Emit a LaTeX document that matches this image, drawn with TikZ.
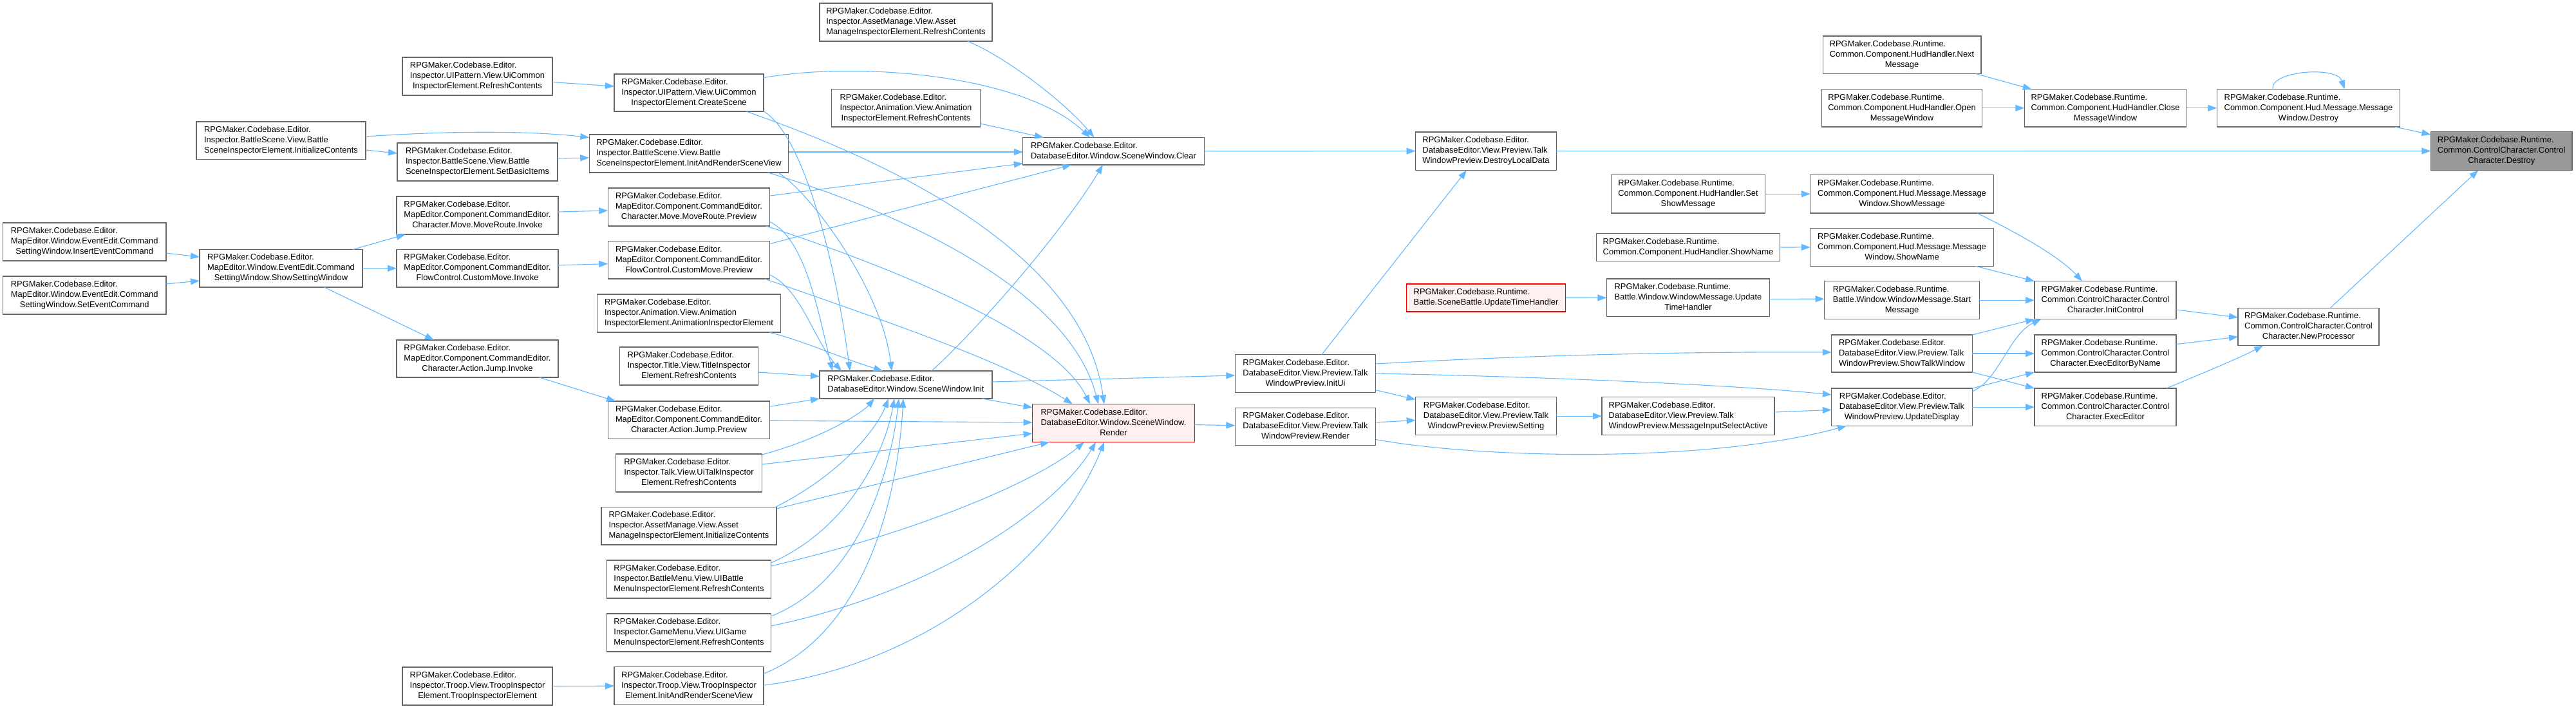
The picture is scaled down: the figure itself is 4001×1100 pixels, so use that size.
\documentclass[tikz,border=0pt]{standalone}
\usepackage{fontspec}
\setmainfont{Liberation Sans}
\usetikzlibrary{calc,arrows.meta}
\definecolor{edgeblue}{HTML}{63B8FF}
\definecolor{boxgray}{HTML}{666666}
\definecolor{redfill}{HTML}{FFF0F0}
\definecolor{rootfill}{HTML}{999999}
\newcommand{\lthree}[3]{\begin{tabular}{@{}l@{}}#1\\#2\\\multicolumn{1}{@{}c@{}}{#3}\end{tabular}}
\newcommand{\ltwo}[2]{\begin{tabular}{@{}l@{}}#1\\\multicolumn{1}{@{}c@{}}{#2}\end{tabular}}
\newcommand{\bx}[6]{\node[box,#1,minimum width=#4,minimum height=#5] (#6) at (#2,#3)}
\begin{document}
\begin{tikzpicture}[x=1pt,y=-1pt,
  box/.style={draw=boxgray,fill=white,line width=1.2pt,inner sep=0pt,outer sep=0pt,
    font=\fontsize{12.9}{16}\selectfont,text=black},
  hot/.style={draw=red,fill=redfill},
  root/.style={draw=boxgray,fill=rootfill},
  cn/.style={draw=edgeblue,line width=1.1pt,-{Triangle[length=14pt,width=10pt]}}]
\useasboundingbox[fill=white] (0,0) rectangle (4001,1100);
% column A
\bx{}{131.25}{375.5}{253.5}{59}{insert}{\lthree{RPGMaker.Codebase.Editor.}{MapEditor.Window.EventEdit.Command}{SettingWindow.InsertEventCommand}};
\bx{}{131.25}{458.5}{253.5}{59}{setev}{\lthree{RPGMaker.Codebase.Editor.}{MapEditor.Window.EventEdit.Command}{SettingWindow.SetEventCommand}};
% column B
\bx{}{436.5}{218.25}{263}{58.5}{battleinit}{\lthree{RPGMaker.Codebase.Editor.}{Inspector.BattleScene.View.Battle}{SceneInspectorElement.InitializeContents}};
\bx{}{436.5}{416.75}{253}{58.5}{showset}{\lthree{RPGMaker.Codebase.Editor.}{MapEditor.Window.EventEdit.Command}{SettingWindow.ShowSettingWindow}};
% column C
\bx{}{741.5}{118.5}{233}{59}{uirefresh}{\lthree{RPGMaker.Codebase.Editor.}{Inspector.UIPattern.View.UiCommon}{InspectorElement.RefreshContents}};
\bx{}{741.5}{251.5}{249}{59}{setbasic}{\lthree{RPGMaker.Codebase.Editor.}{Inspector.BattleScene.View.Battle}{SceneInspectorElement.SetBasicItems}};
\bx{}{741.5}{334.5}{251}{59}{mrinvoke}{\lthree{RPGMaker.Codebase.Editor.}{MapEditor.Component.CommandEditor.}{Character.Move.MoveRoute.Invoke}};
\bx{}{741.5}{416.75}{251}{58.5}{cminvoke}{\lthree{RPGMaker.Codebase.Editor.}{MapEditor.Component.CommandEditor.}{FlowControl.CustomMove.Invoke}};
\bx{}{741.5}{557}{251}{58}{jinvoke}{\lthree{RPGMaker.Codebase.Editor.}{MapEditor.Component.CommandEditor.}{Character.Action.Jump.Invoke}};
\bx{}{741.5}{1065.5}{233}{59}{troopelem}{\lthree{RPGMaker.Codebase.Editor.}{Inspector.Troop.View.TroopInspector}{Element.TroopInspectorElement}};
% column D
\bx{}{1070}{144}{232}{58}{createscene}{\lthree{RPGMaker.Codebase.Editor.}{Inspector.UIPattern.View.UiCommon}{InspectorElement.CreateScene}};
\bx{}{1070}{238.5}{309.5}{59}{initrender}{\lthree{RPGMaker.Codebase.Editor.}{Inspector.BattleScene.View.Battle}{SceneInspectorElement.InitAndRenderSceneView}};
\bx{}{1070}{321.5}{251.5}{59}{mrpreview}{\lthree{RPGMaker.Codebase.Editor.}{MapEditor.Component.CommandEditor.}{Character.Move.MoveRoute.Preview}};
\bx{}{1070}{403.8}{251.5}{58.4}{cmpreview}{\lthree{RPGMaker.Codebase.Editor.}{MapEditor.Component.CommandEditor.}{FlowControl.CustomMove.Preview}};
\bx{}{1070}{486.5}{285.5}{59}{animelem}{\lthree{RPGMaker.Codebase.Editor.}{Inspector.Animation.View.Animation}{InspectorElement.AnimationInspectorElement}};
\bx{}{1070}{568.5}{215.4}{59}{titlerefresh}{\lthree{RPGMaker.Codebase.Editor.}{Inspector.Title.View.TitleInspector}{Element.RefreshContents}};
\bx{}{1070}{652.2}{251.5}{58.4}{jpreview}{\lthree{RPGMaker.Codebase.Editor.}{MapEditor.Component.CommandEditor.}{Character.Action.Jump.Preview}};
\bx{}{1070}{734.5}{227.5}{59}{talkrefresh}{\lthree{RPGMaker.Codebase.Editor.}{Inspector.Talk.View.UiTalkInspector}{Element.RefreshContents}};
\bx{}{1070}{816.75}{272}{58.5}{assetinit}{\lthree{RPGMaker.Codebase.Editor.}{Inspector.AssetManage.View.Asset}{ManageInspectorElement.InitializeContents}};
\bx{}{1070}{899.5}{255}{59}{battlemenu}{\lthree{RPGMaker.Codebase.Editor.}{Inspector.BattleMenu.View.UIBattle}{MenuInspectorElement.RefreshContents}};
\bx{}{1070}{982.5}{255}{59}{gamemenu}{\lthree{RPGMaker.Codebase.Editor.}{Inspector.GameMenu.View.UIGame}{MenuInspectorElement.RefreshContents}};
\bx{}{1070}{1065.2}{232}{59}{troopinit}{\lthree{RPGMaker.Codebase.Editor.}{Inspector.Troop.View.TroopInspector}{Element.InitAndRenderSceneView}};
% column E
\bx{}{1407}{34.5}{268}{59}{assetrefresh}{\lthree{RPGMaker.Codebase.Editor.}{Inspector.AssetManage.View.Asset}{ManageInspectorElement.RefreshContents}};
\bx{}{1407}{167.8}{230.5}{58.4}{animrefresh}{\lthree{RPGMaker.Codebase.Editor.}{Inspector.Animation.View.Animation}{InspectorElement.RefreshContents}};
\bx{}{1407}{597.5}{268}{43}{init}{\ltwo{RPGMaker.Codebase.Editor.}{DatabaseEditor.Window.SceneWindow.Init}};
% column F
\bx{}{1729.5}{234.8}{281.5}{42.4}{clear}{\ltwo{RPGMaker.Codebase.Editor.}{DatabaseEditor.Window.SceneWindow.Clear}};
\bx{hot}{1729.5}{657}{251.8}{59}{render}{\lthree{RPGMaker.Codebase.Editor.}{DatabaseEditor.Window.SceneWindow.}{Render}};
% column G
\bx{}{2027.5}{580}{218.3}{58.3}{talkinitui}{\lthree{RPGMaker.Codebase.Editor.}{DatabaseEditor.View.Preview.Talk}{WindowPreview.InitUi}};
\bx{}{2027.5}{662.7}{218.3}{58.2}{talkrender}{\lthree{RPGMaker.Codebase.Editor.}{DatabaseEditor.View.Preview.Talk}{WindowPreview.Render}};
% column H
\bx{}{2308}{234.6}{218.7}{59.3}{destroylocal}{\lthree{RPGMaker.Codebase.Editor.}{DatabaseEditor.View.Preview.Talk}{WindowPreview.DestroyLocalData}};
\bx{hot}{2308}{462.5}{247.6}{43}{updatetime}{\ltwo{RPGMaker.Codebase.Runtime.}{Battle.SceneBattle.UpdateTimeHandler}};
\bx{}{2308}{646.2}{218.7}{58.9}{previewsetting}{\lthree{RPGMaker.Codebase.Editor.}{DatabaseEditor.View.Preview.Talk}{WindowPreview.PreviewSetting}};
% column I
\bx{}{2622}{301.2}{238.8}{59.6}{setshowmsg}{\lthree{RPGMaker.Codebase.Runtime.}{Common.Component.HudHandler.Set}{ShowMessage}};
\bx{}{2622}{384}{284.3}{43}{hudshowname}{\ltwo{RPGMaker.Codebase.Runtime.}{Common.Component.HudHandler.ShowName}};
\bx{}{2622}{462.4}{253.2}{58.8}{wmupdate}{\lthree{RPGMaker.Codebase.Runtime.}{Battle.Window.WindowMessage.Update}{TimeHandler}};
\bx{}{2622}{646.2}{268}{58.9}{msginput}{\lthree{RPGMaker.Codebase.Editor.}{DatabaseEditor.View.Preview.Talk}{WindowPreview.MessageInputSelectActive}};
% column J
\bx{}{2954}{85.3}{245.8}{58.6}{nextmsg}{\lthree{RPGMaker.Codebase.Runtime.}{Common.Component.HudHandler.Next}{Message}};
\bx{}{2954}{167.8}{249.5}{58.4}{openmsg}{\lthree{RPGMaker.Codebase.Runtime.}{Common.Component.HudHandler.Open}{MessageWindow}};
\bx{}{2954}{301.2}{284.4}{59.6}{mwshowmsg}{\lthree{RPGMaker.Codebase.Runtime.}{Common.Component.Hud.Message.Message}{Window.ShowMessage}};
\bx{}{2954}{383.9}{284.4}{58.6}{mwshowname}{\lthree{RPGMaker.Codebase.Runtime.}{Common.Component.Hud.Message.Message}{Window.ShowName}};
\bx{}{2954}{466.2}{240.6}{58.9}{startmsg}{\lthree{RPGMaker.Codebase.Runtime.}{Battle.Window.WindowMessage.Start}{Message}};
\bx{}{2954}{549}{218.4}{58}{showtalk}{\lthree{RPGMaker.Codebase.Editor.}{DatabaseEditor.View.Preview.Talk}{WindowPreview.ShowTalkWindow}};
\bx{}{2954}{632.2}{218.4}{58.4}{updatedisp}{\lthree{RPGMaker.Codebase.Editor.}{DatabaseEditor.View.Preview.Talk}{WindowPreview.UpdateDisplay}};
% column K
\bx{}{3270}{167.8}{251.4}{58.4}{closemsg}{\lthree{RPGMaker.Codebase.Runtime.}{Common.Component.HudHandler.Close}{MessageWindow}};
\bx{}{3270}{466.2}{220}{58.9}{initcontrol}{\lthree{RPGMaker.Codebase.Runtime.}{Common.ControlCharacter.Control}{Character.InitControl}};
\bx{}{3270}{549}{220}{58}{execbyname}{\lthree{RPGMaker.Codebase.Runtime.}{Common.ControlCharacter.Control}{Character.ExecEditorByName}};
\bx{}{3270}{632.2}{220}{58.4}{execeditor}{\lthree{RPGMaker.Codebase.Runtime.}{Common.ControlCharacter.Control}{Character.ExecEditor}};
% column L
\bx{}{3585.5}{167.8}{284.4}{58.4}{mwdestroy}{\lthree{RPGMaker.Codebase.Runtime.}{Common.Component.Hud.Message.Message}{Window.Destroy}};
\bx{}{3585.5}{507.7}{219}{58.2}{newproc}{\lthree{RPGMaker.Codebase.Runtime.}{Common.ControlCharacter.Control}{Character.NewProcessor}};
% column M
\bx{root}{3885.2}{234.5}{219.6}{59.7}{destroy}{\lthree{RPGMaker.Codebase.Runtime.}{Common.ControlCharacter.Control}{Character.Destroy}};

% ---- edges, left part
\draw[cn] ($(insert.east)+(0,17.5)$) -- ($(showset.west)+(0,-17.75)$);
\draw[cn] ($(setev.east)+(0,-17.5)$) -- ($(showset.west)+(0,19.25)$);
\draw[cn] ($(showset.north)+(111.5,0)$) -- ($(mrinvoke.south)+(-112,0)$);
\draw[cn] (showset.east) -- (cminvoke.west);
\draw[cn] ($(showset.south)+(67,0)$) -- ($(jinvoke.north)+(-67.5,0)$);
\draw[cn] ($(battleinit.east)+(0,14.75)$) -- ($(setbasic.west)+(0,-13.5)$);
\draw[cn] ($(battleinit.east)+(0,-6.25)$) .. controls (700,203) and (820,203) .. ($(initrender.west)+(0,-25)$);
\draw[cn] ($(setbasic.east)+(0,-5.5)$) -- ($(initrender.west)+(0,6.5)$);
\draw[cn] ($(uirefresh.east)+(0,9)$) -- ($(createscene.west)+(0,-10)$);
\draw[cn] ($(mrinvoke.east)+(0,-5.5)$) -- ($(mrpreview.west)+(0,5.5)$);
\draw[cn] ($(cminvoke.east)+(0,-4.75)$) -- ($(cmpreview.west)+(0,5.8)$);
\draw[cn] ($(jinvoke.south)+(96,0)$) -- ($(jpreview.north)+(-114,0)$);
\draw[cn] (troopelem.east) -- (troopinit.west);
% into Clear
\draw[cn] ($(assetrefresh.south)+(96,0)$) .. controls (1565,90) and (1655,160) .. ($(clear.north)+(-30,0)$);
\draw[cn] ($(createscene.east)+(0,-23.3)$) .. controls (1330,95) and (1590,115) .. ($(clear.north)+(-36.5,0)$);
\draw[cn] ($(animrefresh.east)+(0,24)$) -- ($(clear.north)+(-108.5,0)$);
\draw[cn] ($(initrender.east)+(0,-2.5)$) -- ($(clear.west)+(0,1.2)$);
\draw[cn] ($(mrpreview.east)+(0,-17.5)$) -- ($(clear.west)+(0,19)$);
\draw[cn] ($(cmpreview.east)+(0,-25.2)$) -- ($(clear.south)+(-65.5,0)$);
\draw[cn] ($(init.north)+(40,0)$) .. controls (1520,510) and (1650,360) .. ($(clear.south)+(-16.5,0)$);
% into Render
\draw[cn] ($(init.south)+(118,0)$) -- ($(render.west)+(0,-24)$);
\draw[cn] ($(createscene.south)+(89,0)$) .. controls (1350,240) and (1680,380) .. ($(render.north)+(-14.5,0)$);
\draw[cn] ($(initrender.south)+(122.4,0)$) .. controls (1400,330) and (1660,450) .. ($(render.north)+(-23.5,0)$);
\draw[cn] ($(mrpreview.south)+(120,0)$) .. controls (1400,420) and (1640,520) .. ($(render.north)+(-36.5,0)$);
\draw[cn] ($(cmpreview.south)+(118,0)$) .. controls (1350,490) and (1560,560) .. ($(render.north)+(-63.5,0)$);
\draw[cn] ($(jpreview.east)+(0,1)$) -- ($(render.west)+(0,-1)$);
\draw[cn] ($(talkrefresh.east)+(0,-13.5)$) -- ($(render.west)+(0,16)$);
\draw[cn] ($(assetinit.east)+(0,-26.75)$) -- ($(render.south)+(-99.5,0)$);
\draw[cn] ($(battlemenu.east)+(0,-20.5)$) .. controls (1450,820) and (1620,740) .. ($(render.south)+(-45.5,0)$);
\draw[cn] ($(gamemenu.east)+(0,-10.5)$) .. controls (1450,920) and (1640,790) .. ($(render.south)+(-27.5,0)$);
\draw[cn] ($(troopinit.east)+(0,-1)$) .. controls (1450,1030) and (1650,850) .. ($(render.south)+(-14.5,0)$);
% into Init
\draw[cn] ($(titlerefresh.east)+(0,9.5)$) -- ($(init.west)+(0,-13)$);
\draw[cn] ($(jpreview.east)+(0,-21)$) -- (init.south west);
\draw[cn] ($(talkrefresh.east)+(0,-28.5)$) .. controls (1280,680) and (1340,640) .. ($(init.south)+(-49,0)$);
\draw[cn] ($(assetinit.north east)+(-2,0)$) .. controls (1300,740) and (1360,670) .. ($(init.south)+(-27,0)$);
\draw[cn] ($(battlemenu.east)+(0,-25.5)$) .. controls (1320,820) and (1375,700) .. ($(init.south)+(-18,0)$);
\draw[cn] ($(gamemenu.east)+(0,-25.5)$) .. controls (1340,900) and (1385,720) .. ($(init.south)+(-11,0)$);
\draw[cn] ($(troopinit.east)+(0,-19)$) .. controls (1350,980) and (1395,760) .. ($(init.south)+(-4,0)$);
\draw[cn] (createscene.south east) .. controls (1250,210) and (1300,420) .. ($(init.north)+(-87,0)$);
\draw[cn] ($(initrender.south)+(138.5,0)$) .. controls (1260,300) and (1370,450) .. ($(init.north)+(-22,0)$);
\draw[cn] ($(mrpreview.east)+(0,23)$) .. controls (1250,370) and (1270,480) .. ($(init.north)+(-114,0)$);
\draw[cn] ($(cmpreview.east)+(0,23)$) .. controls (1245,450) and (1265,530) .. ($(init.north)+(-100,0)$);
\draw[cn] ($(animelem.south)+(124.6,0)$) .. controls (1250,530) and (1290,550) .. ($(init.north)+(-36,0)$);
% right part
\draw[cn] ($(init.east)+(0,-4.5)$) -- ($(talkinitui.west)+(0,3)$);
\draw[cn] ($(render.east)+(0,2.6)$) -- ($(talkrender.west)+(0,-2)$);
\draw[cn] (clear.east) -- (destroylocal.west);
\draw[cn] ($(talkinitui.north)+(25.2,0)$) -- ($(destroylocal.south)+(-30,0)$);
\draw[cn] ($(talkinitui.east)+(0,25.7)$) -- ($(previewsetting.west)+(0,-25.8)$);
\draw[cn] ($(talkinitui.east)+(0,-15)$) .. controls (2400,550) and (2650,546) .. ($(showtalk.west)+(0,-2)$);
\draw[cn] (talkinitui.east) .. controls (2400,585) and (2700,598) .. ($(updatedisp.west)+(0,-19.2)$);
\draw[cn] ($(talkrender.east)+(0,-6.7)$) -- ($(previewsetting.west)+(0,6.3)$);
\draw[cn] ($(talkrender.east)+(0,19.8)$) .. controls (2300,712) and (2650,720) .. ($(updatedisp.south)+(-86,0)$);
\draw[cn] (previewsetting.east) -- (msginput.west);
\draw[cn] ($(msginput.east)+(0,-6.2)$) -- ($(updatedisp.west)+(0,4.2)$);
\draw[cn] (destroylocal.east) -- (destroy.west);
\draw[cn] (updatetime.east) -- (wmupdate.west);
\draw[cn] ($(wmupdate.east)+(0,2)$) -- ($(startmsg.west)+(0,-2)$);
\draw[cn] (setshowmsg.east) -- (mwshowmsg.west);
\draw[cn] (hudshowname.east) -- (mwshowname.west);
\draw[cn] ($(nextmsg.south east)+(-8,0)$) -- ($(closemsg.north west)+(11.5,0)$);
\draw[cn] (openmsg.east) -- (closemsg.west);
\draw[cn] (closemsg.east) -- (mwdestroy.west);
\draw[cn] ($(mwdestroy.north)+(-55.5,0)$) .. controls (3525,110) and (3630,102) .. ($(mwdestroy.north)+(56,0)$);
\draw[cn] ($(mwdestroy.south east)+(-8,0)$) -- ($(destroy.west)+(0,-25.5)$);
\draw[cn] ($(mwshowmsg.south)+(116.8,0)$) .. controls (3140,365) and (3200,400) .. ($(initcontrol.north)+(-36,0)$);
\draw[cn] ($(mwshowname.south)+(114.5,0)$) -- (initcontrol.north west);
\draw[cn] (startmsg.east) -- (initcontrol.west);
\draw[cn] (showtalk.north east) -- (initcontrol.south west);
\draw[cn] ($(updatedisp.east)+(0,-24.2)$) .. controls (3105,590) and (3120,520) .. ($(initcontrol.south west)+(10,0)$);
\draw[cn] (showtalk.east) -- (execbyname.west);
\draw[cn] (showtalk.south east) -- (execeditor.north west);
\draw[cn] (updatedisp.north east) -- (execbyname.south west);
\draw[cn] (updatedisp.east) -- (execeditor.west);
\draw[cn] ($(initcontrol.east)+(0,14.8)$) -- ($(newproc.west)+(0,-14.8)$);
\draw[cn] ($(execbyname.east)+(0,-14.4)$) -- ($(newproc.west)+(0,15.3)$);
\draw[cn] ($(execeditor.north east)+(-15,0)$) .. controls (3420,580) and (3480,555) .. ($(newproc.south)+(-70.5,0)$);
\draw[cn] ($(newproc.north)+(33.5,0)$) -- ($(destroy.south)+(-36,0)$);
\end{tikzpicture}
\end{document}
